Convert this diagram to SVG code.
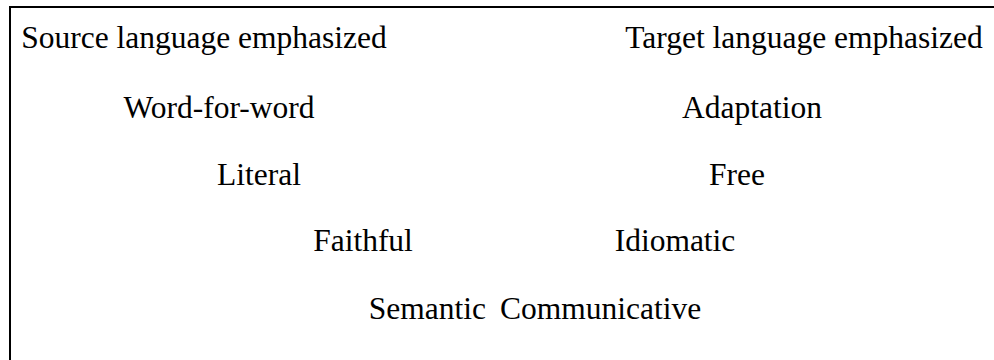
<svg xmlns="http://www.w3.org/2000/svg" width="994" height="360" viewBox="0 0 994 360">
<style>
text{font-family:"Liberation Serif","Times New Roman",serif;font-size:31.5px;fill:#000;text-anchor:middle}
.b{stroke:#000;stroke-width:2;fill:none}
</style>
<rect width="994" height="360" fill="#fff"/>
<g id="frame"><path class="b" d="M10,360 V7 H994"/></g>
<g id="n1"><text x="204" y="48">Source language emphasized</text></g>
<g id="n2"><text x="804" y="48">Target language emphasized</text></g>
<g id="n3"><text x="219" y="118">Word-for-word</text></g>
<g id="n4"><text x="752" y="118">Adaptation</text></g>
<g id="n5"><text x="259" y="185">Literal</text></g>
<g id="n6"><text x="737" y="185">Free</text></g>
<g id="n7"><text x="363" y="251">Faithful</text></g>
<g id="n8"><text x="675" y="251">Idiomatic</text></g>
<g id="n9"><text x="486" y="319" style="text-anchor:end">Semantic</text></g>
<g id="n10"><text x="500" y="319" style="text-anchor:start">Communicative</text></g>
<g id="connectors"/>
</svg>
